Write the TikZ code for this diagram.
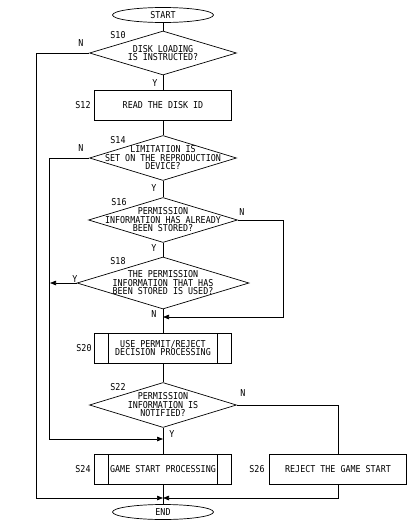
\documentclass[tikz,border=0pt]{standalone}
\usepackage{fontspec}
\newfontfamily\flowfont[FakeStretch=0.88]{DejaVu Sans Mono}
\usetikzlibrary{arrows.meta, shapes.geometric}

\begin{document}
\begin{tikzpicture}[x=1pt, y=-1pt,
  every node/.style={font=\flowfont\fontsize{9.5}{8.5}\selectfont},
  line/.style={line width=0.7pt},
  arr/.style={line, -{Triangle[length=6pt,width=4.5pt]}},
  terminal/.style={draw, line width=0.7pt, ellipse, inner sep=0pt,
                   minimum width=101pt, minimum height=15pt},
  proc/.style={draw, line width=0.7pt, rectangle, inner sep=0pt, align=center,
               minimum width=137pt, minimum height=30pt},
  predef/.style={proc, path picture={
      \draw[line] ([xshift=14pt]path picture bounding box.north west)
                  -- ([xshift=14pt]path picture bounding box.south west);
      \draw[line] ([xshift=-14pt]path picture bounding box.north east)
                  -- ([xshift=-14pt]path picture bounding box.south east);}},
  decision/.style={draw, line width=0.7pt, diamond, inner sep=0pt},
  dtext/.style={align=center}
]
  \fill[white] (0,0) rectangle (416,525);
  \useasboundingbox (0,0) rectangle (416,525);

  % Terminals
  \node[terminal] (start) at (163,15) {START};
  \node[terminal] (stop) at (163,512) {END};

  % Decisions
  \node[decision, minimum width=147pt, minimum height=44pt,
        label={[dtext]center:DISK LOADING\\IS INSTRUCTED?}] (s10) at (163,53) {};
  \node[decision, minimum width=147pt, minimum height=45pt,
        label={[dtext]center:LIMITATION IS\\SET ON THE REPRODUCTION\\DEVICE?}] (s14) at (163,158) {};
  \node[decision, minimum width=149pt, minimum height=45pt,
        label={[dtext]center:PERMISSION\\INFORMATION HAS ALREADY\\BEEN STORED?}] (s16) at (163,220) {};
  \node[decision, minimum width=172pt, minimum height=52pt,
        label={[dtext]center:THE PERMISSION\\INFORMATION THAT HAS\\BEEN STORED IS USED?}] (s18) at (163,283) {};
  \node[decision, minimum width=147pt, minimum height=45pt,
        label={[dtext]center:PERMISSION\\INFORMATION IS\\NOTIFIED?}] (s22) at (163,405) {};

  % Processes
  \node[proc] (s12) at (163,105) {READ THE DISK ID};
  \node[predef] (s20) at (163,348) {USE PERMIT/REJECT\\DECISION PROCESSING};
  \node[predef] (s24) at (163,469) {GAME START PROCESSING};
  \node[proc] (s26) at (338,469) {REJECT THE GAME START};

  % Step numbers
  \foreach \nm/\x/\y in {S10/118/35, S12/83/105, S14/118/140, S16/119/202,
                         S18/118/261, S20/84/348, S22/118/387, S24/83/469, S26/257/469}
    \node (lbl\nm) at (\x,\y) {\nm};

  % Branch letters
  \node (n10) at (81,43) {N};
  \node (y10) at (155,83) {Y};
  \node (n14) at (81,148) {N};
  \node (y14) at (154,188) {Y};
  \node (n16) at (242,212) {N};
  \node (y16) at (154,248) {Y};
  \node (y18) at (75,279) {Y};
  \node (n18) at (154,314) {N};
  \node (n22) at (243,393) {N};
  \node (y22) at (172,434) {Y};

  % Joins
  \coordinate (j16) at (163,317);
  \coordinate (j14) at (163,439);
  \coordinate (j18) at (50,283);
  \coordinate (j10) at (163,498);

  % Main flow
  \draw[line] (start) -- (s10);
  \draw[line] (s10) -- (s12);
  \draw[line] (s12) -- (s14);
  \draw[line] (s14) -- (s16);
  \draw[line] (s16) -- (s18);
  \draw[line] (s18) -- (s20);
  \draw[line] (s20) -- (s22);
  \draw[line] (s22) -- (s24);
  \draw[line] (s24) -- (stop);

  % Side branches
  \draw[arr] (s16.east) -- ++(45,0) |- (j16);
  \draw[arr] (s14.west) -- ++(-40,0) |- (j14);
  \draw[arr] (s18.west) -- (j18);
  \draw[arr] (s10.west) -- ++(-53,0) |- (j10);
  \draw[line] (s22.east) -| (s26.north);
  \draw[arr] (s26.south) |- (j10);
\end{tikzpicture}
\end{document}
